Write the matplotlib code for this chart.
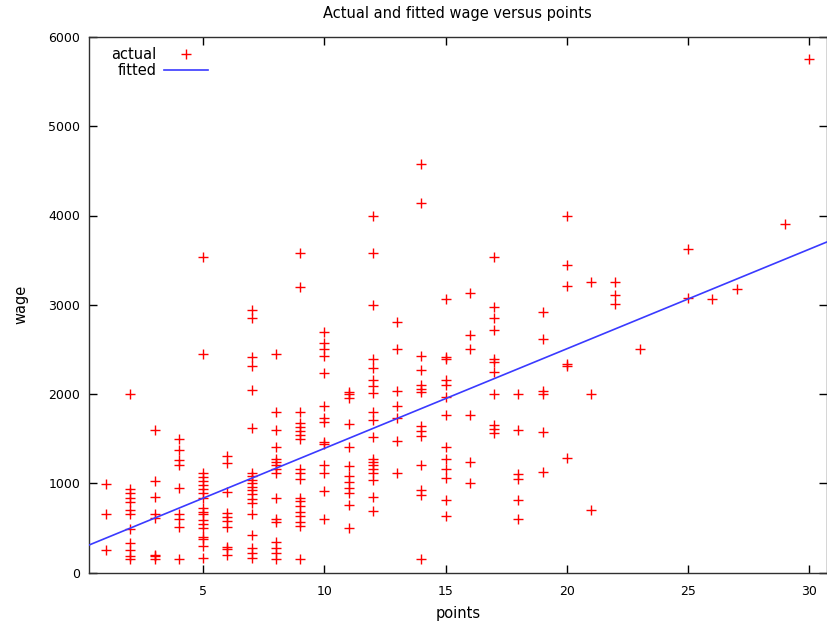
import matplotlib
matplotlib.use("Agg")
import matplotlib.pyplot as plt
import numpy as np

w01 = [990, 650, 250]
w02 = [2000, 935, 890, 830, 790, 700, 655, 485, 330, 250, 190, 150]
w03 = [1600, 1020, 850, 650, 610, 200, 180, 150]
w04 = [1500, 1370, 1260, 1200, 945, 660, 595, 515, 150]
w05 = [3540, 2450, 1120, 1075, 1030, 980, 930, 890, 840, 720, 680, 655, 590, 545, 495, 400, 370, 300, 160]
w06 = [1300, 1225, 905, 670, 625, 580, 510, 285, 260, 195]
w07 = [2940, 2850, 2410, 2310, 2040, 1620, 1110, 1080, 1040, 1000, 960, 920, 880, 820, 780, 660, 420, 270, 215, 160]
w08 = [2450, 1800, 1600, 1410, 1270, 1240, 1210, 1160, 1110, 840, 605, 570, 345, 270, 215, 150]
w09 = [3580, 3200, 1800, 1670, 1630, 1590, 1540, 1500, 1160, 1110, 1050, 840, 800, 740, 680, 630, 570, 525, 150]
w10 = [2700, 2570, 2500, 2430, 2230, 1860, 1730, 1690, 1460, 1440, 1200, 1110, 910, 600]
w11 = [2020, 2000, 1960, 1660, 1410, 1190, 1080, 1010, 950, 890, 760, 500]
w12 = [4000, 3580, 3000, 2390, 2290, 2160, 2090, 2010, 1800, 1710, 1520, 1270, 1240, 1210, 1160, 1110, 1040, 850, 690]
w13 = [2810, 2500, 2030, 1860, 1730, 1470, 1110]
w14 = [4580, 4140, 2430, 2270, 2100, 2060, 2020, 1640, 1580, 1530, 1200, 920, 870, 150]
w15 = [3060, 2410, 2390, 2160, 2100, 1970, 1760, 1410, 1270, 1160, 1060, 810, 630]
w16 = [3130, 2660, 2500, 1770, 1240, 1000]
w17 = [3540, 2980, 2850, 2720, 2390, 2360, 2250, 2000, 1650, 1610, 1560]
w18 = [2000, 1600, 1100, 1050, 810, 600]
w19 = [2920, 2620, 2030, 2000, 1570, 1130]
w20 = [4000, 3440, 3210, 2340, 2310, 1280]
w21 = [3250, 2000, 700]
w22 = [3250, 3110, 3010]
w23 = [2500]
w25 = [3620, 3080]
w26 = [3060]
w27 = [3180]
w29 = [3900]
w30 = [5750]

groups = [(1, w01), (2, w02), (3, w03), (4, w04), (5, w05), (6, w06), (7, w07),
          (8, w08), (9, w09), (10, w10), (11, w11), (12, w12), (13, w13),
          (14, w14), (15, w15), (16, w16), (17, w17), (18, w18), (19, w19),
          (20, w20), (21, w21), (22, w22), (23, w23), (25, w25), (26, w26),
          (27, w27), (29, w29), (30, w30)]

points = np.concatenate([[p] * len(w) for p, w in groups])
wage = np.concatenate([w for p, w in groups])

# fitted regression line coefficients
fit_intercept = 275.0
fit_slope = 111.6

x_ticks = [5, 10, 15, 20, 25, 30]
y_ticks = [0, 1000, 2000, 3000, 4000, 5000, 6000]
x_range = (0.275, 30.725)
y_range = (0, 6000)

# ---- figure ----
plt.rcParams['font.family'] = ['DejaVu Sans']
fig = plt.figure(figsize=(8.28, 6.28), dpi=100)
ax = fig.add_axes([88.6 / 828, 1 - 572.5 / 628, (827 - 88.6) / 828, (572.5 - 37) / 628])

ax.plot(points, wage, linestyle='none', marker='+', markersize=7.5, markeredgewidth=1.0,
        color='#ff0000', label='actual', zorder=3)
xf = np.array(x_range)
ax.plot(xf, fit_intercept + fit_slope * xf, color='#3a3aff', linewidth=1.2,
        label='fitted', zorder=4)

ax.set_xlim(*x_range)
ax.set_ylim(*y_range)
ax.set_xticks(x_ticks)
ax.set_yticks(y_ticks)
ax.tick_params(direction='in', length=6, width=1, top=True, right=True,
               labelsize=9, colors='#000000')
ax.tick_params(axis='x', pad=9)
ax.tick_params(axis='y', pad=6)
for s in ax.spines.values():
    s.set_linewidth(1.0)
    s.set_color('#303030')

ax.set_title('Actual and fitted wage versus points', fontsize=10.5, pad=14)
ax.set_xlabel('points', fontsize=10.5, labelpad=6)
ax.set_ylabel('wage', fontsize=10.5, labelpad=14)

leg = ax.legend(loc='upper right', bbox_to_anchor=((208 - 88.6) / 738.4, 1 - 10 / 535.5),
                frameon=False, markerfirst=False, fontsize=10.5, handlelength=3.0,
                handletextpad=0.55, labelspacing=0.05, borderpad=0, borderaxespad=0,
                numpoints=1)

fig.savefig('out.png', dpi=100)
